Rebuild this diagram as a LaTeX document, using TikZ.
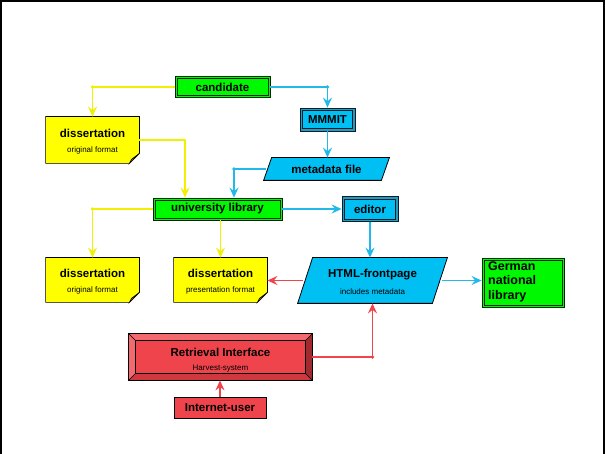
\documentclass[tikz,border=0pt]{standalone}
\usepackage{fontspec}
\setmainfont{Liberation Sans}
\usetikzlibrary{arrows.meta,calc}
\definecolor{gfill}{HTML}{00F800}
\definecolor{gline}{HTML}{002800}
\definecolor{cfill}{HTML}{00BFF2}
\definecolor{cmid}{HTML}{2A98B8}
\definecolor{cdark}{HTML}{002030}
\definecolor{cline}{HTML}{22B8EA}
\definecolor{yfill}{HTML}{FFFF00}
\definecolor{yline}{HTML}{F0F000}
\definecolor{yfold}{HTML}{C8B830}
\definecolor{rfill}{HTML}{F0444C}
\definecolor{rlight}{HTML}{F46870}
\definecolor{rmid}{HTML}{D03840}
\definecolor{rdark}{HTML}{A02A30}
\definecolor{rline}{HTML}{F0444C}
\newcommand\dogear[1]{%
  \draw[fill=yfill,line width=0.7pt] (#1.north west) -- (#1.north east) -- ($(#1.south east)+(0,-10)$) -- ($(#1.south east)+(-10,0)$) -- (#1.south west) -- cycle;
  \draw[fill=yfold,line width=0.6pt] ($(#1.south east)+(0,-10)$) -- ($(#1.south east)+(-10,0)$) -- ($(#1.south east)+(-8,-4)$) -- cycle;}
\newcommand\gframe[1]{%
  \draw[gline,line width=0.7pt] ($(#1.north west)+(2.3,2.3)$) rectangle ($(#1.south east)+(-2.3,-2.3)$);}
\newcommand\cframe[1]{%
  \draw[cdark,fill=cfill,line width=0.7pt] ($(#1.north west)+(2.8,2.8)$) rectangle ($(#1.south east)+(-2.8,-2.8)$);}
\newcommand\pgram[2]{%
  \draw[fill=cfill,line width=0.8pt] ($(#1.north west)+(#2,0)$) -- ($(#1.north east)+(#2,0)$) -- ($(#1.south east)+(-#2,0)$) -- ($(#1.south west)+(-#2,0)$) -- cycle;}
\begin{document}
\begin{tikzpicture}[x=1pt,y=-1pt,
  bt/.style={font=\fontsize{11.5}{13}\selectfont\bfseries,inner sep=0},
  st/.style={font=\fontsize{8}{9}\selectfont,inner sep=0},
  box/.style={rectangle,inner sep=0,line width=0.8pt},
  gbox/.style={box,fill=gfill,draw=gline},
  cbox/.style={box,fill=cmid,draw=cdark},
  hid/.style={box,draw=none},
  con/.style={line width=1.4pt,-{Stealth[length=10pt,width=9pt,inset=3.5pt]}},
  ycon/.style={con,draw=yline,line width=1.9pt},
  ccon/.style={con,draw=cline,line width=1.6pt},
  rcon/.style={con,draw=rline}
]
\useasboundingbox (0,0) rectangle (605,454);
\draw[line width=2pt] (1,454) -- (1,1) -- (604,1) -- (604,454);

% green boxes
\node[gbox,minimum width=95,minimum height=21] (cand) at (222.5,87) {};
\gframe{cand}
\node[bt] (candt) at (cand) {candidate};
\node[gbox,minimum width=129,minimum height=22] (univ) at (217.5,209) {};
\gframe{univ}
\node[bt] (univt) at (univ) {university library};
\node[gbox,minimum width=82,minimum height=49] (ger) at (523,282.5) {};
\gframe{ger}
\node[inner sep=0,anchor=north west,align=left,font=\fontsize{12.5}{14.5}\selectfont\bfseries] (gert) at (488,261.5) {German\\national\\library};

% cyan boxes
\node[cbox,minimum width=55,minimum height=23] (mmmit) at (327.5,119.5) {};
\cframe{mmmit}
\node[bt] (mmmitt) at (mmmit) {MMMIT};
\node[cbox,minimum width=56,minimum height=25] (editor) at (370,209) {};
\cframe{editor}
\node[bt] (editort) at (editor) {editor};

% parallelograms
\node[hid,minimum width=117,minimum height=22] (meta) at (326.5,169) {};
\pgram{meta}{4}
\node[bt] (metat) at (meta) {metadata file};
\node[hid,minimum width=134,minimum height=45] (html) at (372.5,280.5) {};
\pgram{html}{7.5}
\node[bt] (htmlt) at (372.5,274.5) {HTML-frontpage};
\node[st] (htmls) at (372.5,292) {includes metadata};

% dissertation notes
\node[hid,minimum width=93,minimum height=46] (d1) at (92.5,140) {};
\node[hid,minimum width=93,minimum height=44] (d2) at (92.5,280) {};
\node[hid,minimum width=93,minimum height=44] (d3) at (220.5,280) {};
\dogear{d1}
\dogear{d2}
\dogear{d3}
\node[bt] (d1t) at (92.5,133) {dissertation};
\node[st] (d1s) at (92.5,150.5) {original format};
\node[bt] (d2t) at (92.5,273) {dissertation};
\node[st] (d2s) at (92.5,290.5) {original format};
\node[bt] (d3t) at (220.5,273) {dissertation};
\node[st] (d3s) at (220.5,290.5) {presentation format};

% retrieval interface (bevelled)
\node[box,fill=rfill,minimum width=183,minimum height=46] (ri) at (220.5,357) {};
\fill[rlight] (ri.north west) -- (ri.north east) -- ($(ri.north east)+(-7,7)$) -- ($(ri.north west)+(7,7)$) -- cycle;
\fill[rlight] (ri.north west) -- ($(ri.north west)+(7,7)$) -- ($(ri.south west)+(7,-7)$) -- (ri.south west) -- cycle;
\fill[rdark] (ri.north east) -- (ri.south east) -- ($(ri.south east)+(-7,-7)$) -- ($(ri.north east)+(-7,7)$) -- cycle;
\fill[rmid] (ri.south west) -- (ri.south east) -- ($(ri.south east)+(-7,-7)$) -- ($(ri.south west)+(7,-7)$) -- cycle;
\draw[line width=0.5pt] (ri.north west) -- ($(ri.north west)+(7,7)$) (ri.north east) -- ($(ri.north east)+(-7,7)$)
  (ri.south west) -- ($(ri.south west)+(7,-7)$) (ri.south east) -- ($(ri.south east)+(-7,-7)$);
\draw[line width=0.7pt] ($(ri.north west)+(7,7)$) rectangle ($(ri.south east)+(-7,-7)$);
\draw[line width=0.8pt] (ri.north west) rectangle (ri.south east);
\node[bt] (rit) at (220.5,352) {Retrieval Interface};
\node[st] (ris) at (220.5,368.5) {Harvest-system};

\node[box,bt,fill=rfill,draw=black,minimum width=92,minimum height=21] (inet) at (220,407.5) {Internet-user};

\coordinate (uy) at ([xshift=-32.5pt]univ.north);
\coordinate (uc) at ([xshift=16.5pt]univ.north);

% yellow connectors
\draw[ycon] (cand.west) -| (d1.north);
\fill[yline] (cand.west -| d1.north) circle (1.9);
\draw[ycon] (d1.east) -| (uy);
\draw[ycon] (univ.west) -| (d2.north);
\fill[yline] (univ.west -| d2.north) circle (1.9);
\draw[ycon] (univ.south -| d3.north) -- (d3.north);

% cyan connectors
\draw[ccon] (cand.east) -| (mmmit.north);
\fill[cline] (cand.east -| mmmit.north) circle (1.8);
\draw[ccon] (mmmit.south) -- (mmmit.south |- meta.north);
\draw[ccon] ([xshift=-2pt]meta.west) -| (uc);
\fill[cline] (meta.west -| uc) circle (1.8);
\draw[ccon] (univ.east) -- (editor.west);
\draw[ccon] (editor.south) -- (editor.south |- html.north);
\draw[ccon] ([xshift=2pt]html.east) -- (html.east -| ger.west);

% red connectors
\draw[rcon] ([xshift=-2pt]html.west) -- (html.west -| d3.east);
\draw[rcon] (inet.north) -- (ri.south -| inet.north);
\draw[rcon] (ri.east) -| (html.south);
\fill[rline] (ri.east -| html.south) circle (1.8);
\end{tikzpicture}
\end{document}
